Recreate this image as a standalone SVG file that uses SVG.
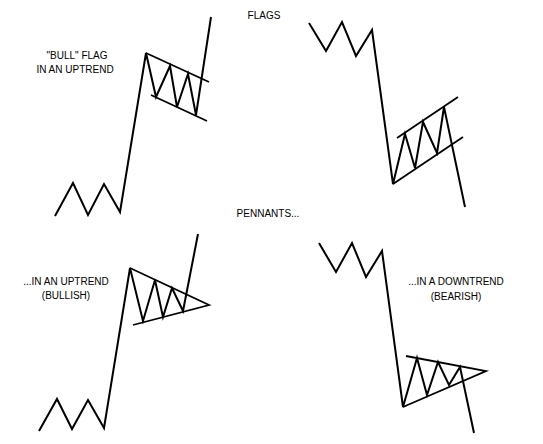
<svg xmlns="http://www.w3.org/2000/svg" width="543" height="444" viewBox="0 0 543 444">
<style>
.t{font-family:"Liberation Sans",Arial,sans-serif;font-size:10px;fill:#000;text-anchor:middle}
.p{fill:none;stroke:#000;stroke-width:2;stroke-linejoin:miter;stroke-linecap:butt}
.b{fill:none;stroke:#000;stroke-width:1.8}
</style>
<rect width="543" height="444" fill="#fff"/>
<g id="titles">
<text class="t" x="264" y="19">FLAGS</text>
<text class="t" x="268" y="217">PENNANTS...</text>
</g>
<g id="bull-flag">
<text class="t" x="77" y="59">"BULL" FLAG</text>
<text class="t" x="75" y="73">IN AN UPTREND</text>
</g>
<g id="bear-flag"></g>
<g id="bull-pennant">
<text class="t" x="66" y="285">...IN AN UPTREND</text>
<text class="t" x="66" y="299">(BULLISH)</text>
</g>
<g id="bear-pennant">
<text class="t" x="456" y="285">...IN A DOWNTREND</text>
<text class="t" x="456" y="300">(BEARISH)</text>
</g>
<g id="connectors">
<polyline class="p" points="55,216 73,183 88,215 104,184 120,212 146,53 156,97 170,66 177,107 188,74 196,115 211,17"/>
<line class="b" x1="146" y1="53" x2="209" y2="82"/>
<line class="b" x1="151" y1="95" x2="207" y2="121"/>
<polyline class="p" points="309,23 326,51 342,22 356,56 372,30 393,184 405,134 415,168 423,122 437,153 444,107 465,207"/>
<line class="b" x1="397" y1="138" x2="458" y2="97"/>
<line class="b" x1="393" y1="184" x2="463" y2="137"/>
<polyline class="p" points="39,431 57,399 72,429 88,400 104,428 130,268 143,321 155,280 163,317 172,288 183,311 198,234"/>
<polyline class="b" points="130,268 209,305 133,325"/>
<polyline class="p" points="319,243 336,272 352,243 366,277 382,251 403,407 417,358 427,395 438,362 449,385 460,367 474,433"/>
<polyline class="b" points="406,356 486,371 403,407"/>
</g>
</svg>
